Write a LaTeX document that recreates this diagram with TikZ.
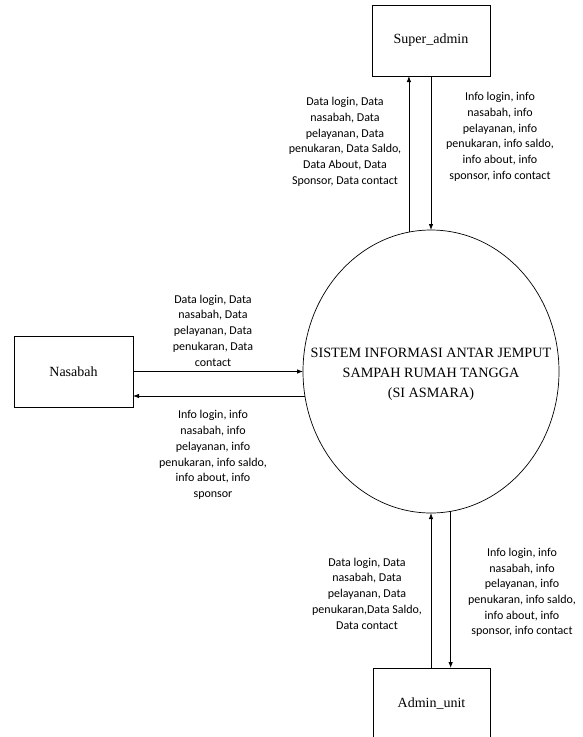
\documentclass[tikz,border=0pt]{standalone}
\usepackage{fontspec}
\setmainfont{Liberation Serif}
\newfontfamily\lblfont{Carlito}
\usetikzlibrary{shapes.geometric,arrows.meta}
\begin{document}
\begin{tikzpicture}[x=1pt,y=-1pt,
  entity/.style={draw,line width=0.8pt,rectangle,inner sep=0pt,outer sep=0pt,font=\fontsize{14}{16}\selectfont},
  proc/.style={draw,line width=0.7pt,ellipse,inner sep=0pt,outer sep=0pt,minimum width=256pt,minimum height=283pt},
  proctext/.style={align=center,inner sep=0pt,font=\fontsize{14.2}{20}\selectfont},
  lbl/.style={align=center,inner sep=0pt,font=\lblfont\fontsize{12}{15.7}\selectfont},
  flow/.style={line width=0.8pt,-{Latex[length=6pt,width=4.5pt]}}]
\useasboundingbox (0,0) rectangle (582,737);
\node[entity,minimum width=118pt,minimum height=71pt] (sa) at (431,40.5) {Super\_admin};
\node[entity,minimum width=119pt,minimum height=71pt] (nas) at (73.5,371.5) {Nasabah};
\node[entity,minimum width=117pt,minimum height=72pt] (au) at (431.5,704) {Admin\_unit};
\node[proc] (ell) at (431,371.5) {};
\node[proctext] (ellt) at ([yshift=-3pt]ell.center) {SISTEM INFORMASI ANTAR JEMPUT\\SAMPAH RUMAH TANGGA\\(SI ASMARA)};
% top
\draw[flow] (ell.99) -- (ell.99 |- sa.south);
\draw[flow] (sa.south -| ell.north) -- (ell.north);
% left
\draw[flow] (nas.east) -- (ell.west);
\draw[flow] (ell.191) -- (ell.191 -| nas.east);
% bottom
\draw[flow] (au.north -| ell.south) -- (ell.south);
\draw[flow] (ell.278.6) -- (ell.278.6 |- au.north);
% labels
\node[lbl] (l1) at (345,141.7) {Data login, Data\\nasabah, Data\\pelayanan, Data\\penukaran, Data Saldo,\\Data About, Data\\Sponsor, Data contact};
\node[lbl] (l2) at (500,136.7) {Info login, info\\nasabah, info\\pelayanan, info\\penukaran, info saldo,\\info about, info\\sponsor, info contact};
\node[lbl] (l3) at (213,330.5) {Data login, Data\\nasabah, Data\\pelayanan, Data\\penukaran, Data\\contact};
\node[lbl] (l4) at (213,455) {Info login, info\\nasabah, info\\pelayanan, info\\penukaran, info saldo,\\info about, info\\sponsor};
\node[lbl] (l5) at (367,593.5) {Data login, Data\\nasabah, Data\\pelayanan, Data\\penukaran,Data Saldo,\\Data contact};
\node[lbl] (l6) at (522,592.5) {Info login, info\\nasabah, info\\pelayanan, info\\penukaran, info saldo,\\info about, info\\sponsor, info contact};
\end{tikzpicture}
\end{document}
